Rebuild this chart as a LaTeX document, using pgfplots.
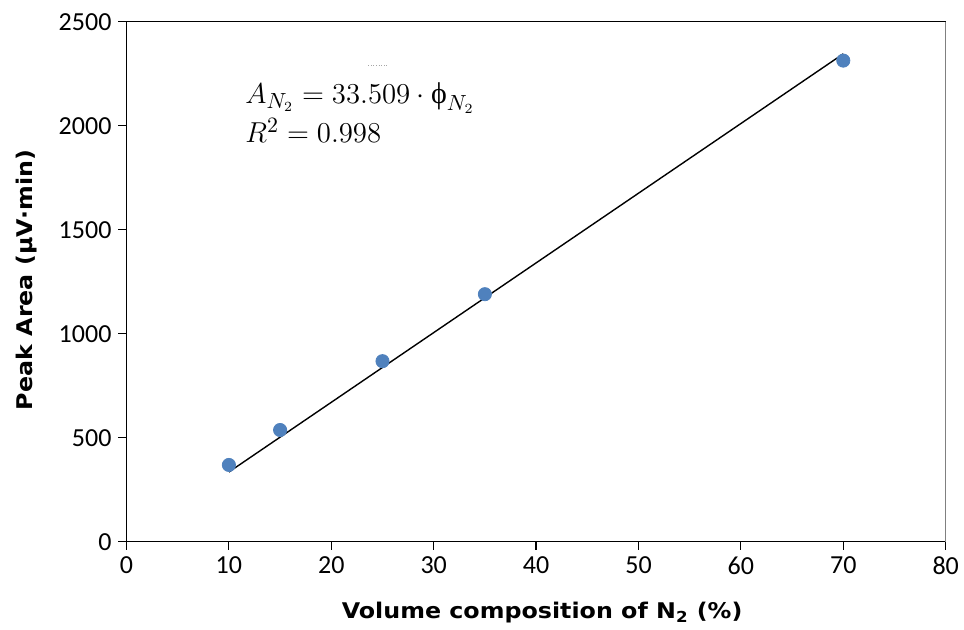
\documentclass[border=0pt]{standalone}
\usepackage{pgfplots}
\pgfplotsset{compat=1.18}
\usepackage{fontspec}
\setmainfont{Carlito}
\newfontfamily\labfont{DejaVu Sans}[FakeStretch=1.1]
\newfontfamily\eqfont{Liberation Serif}
\definecolor{mk}{HTML}{4F81BD}
\begin{document}
\begin{tikzpicture}
\useasboundingbox (0,0) rectangle (482pt,314.5pt);
\begin{axis}[
  at={(63.25pt,43.65pt)}, anchor=south west,
  scale only axis,
  width=409.6pt, height=260pt,
  xmin=0, xmax=80, ymin=0, ymax=2500,
  xtick={0,10,...,80}, ytick={0,500,...,2500},
  tick align=outside, tick pos=left,
  major tick length=4pt,
  tick style={black, line width=0.6pt},
  axis x line*=bottom, axis y line*=left,
  axis line style={black, line width=0.6pt},
  ticklabel style={font=\fontsize{13}{15}\selectfont},
  /pgf/number format/assume math mode=true,
  /pgf/number format/1000 sep={},
  xlabel={\labfont\bfseries Volume composition of N\textsubscript{2} (\%)},
  ylabel={\labfont\bfseries Peak Area (µV·min)},
  label style={font=\fontsize{10.8}{13}\selectfont},
  xlabel style={at={(axis description cs:0.5,0)}, anchor=base, yshift=-38.6pt, xshift=3pt},
  ylabel style={at={(axis description cs:0,0.5)}, anchor=base, yshift=46.8pt, xshift=1pt},
  clip=false,
]
\draw[black, line width=0.6pt] (axis cs:0,2500) -- (axis cs:80,2500);
\draw[gray, line width=0.8pt] (axis cs:80,2500) -- (axis cs:80,0);
\addplot[black, line width=0.7pt, no marks] coordinates {(10,335.1) (70,2345.6)};
\addplot[only marks, mark=*, mark size=3.3pt, mark options={fill=mk, draw=mk}] coordinates {
(10,369) (15,537) (25,868) (35,1190) (70,2313)};
\draw[gray!70, densely dotted, line width=0.3pt] (axis cs:23.6,2292) -- (axis cs:25.6,2292);
\node[anchor=base west, inner sep=0pt, font=\fontsize{15}{18}\selectfont] at (axis cs:11.57,2109) {$A_{N_2} = 33.509\cdot\mbox{\eqfont ϕ}_{N_2}$};
\node[anchor=base west, inner sep=0pt, font=\fontsize{15}{18}\selectfont] at (axis cs:11.57,1917) {$R^2 = 0.998$};
\end{axis}
\end{tikzpicture}
\end{document}
